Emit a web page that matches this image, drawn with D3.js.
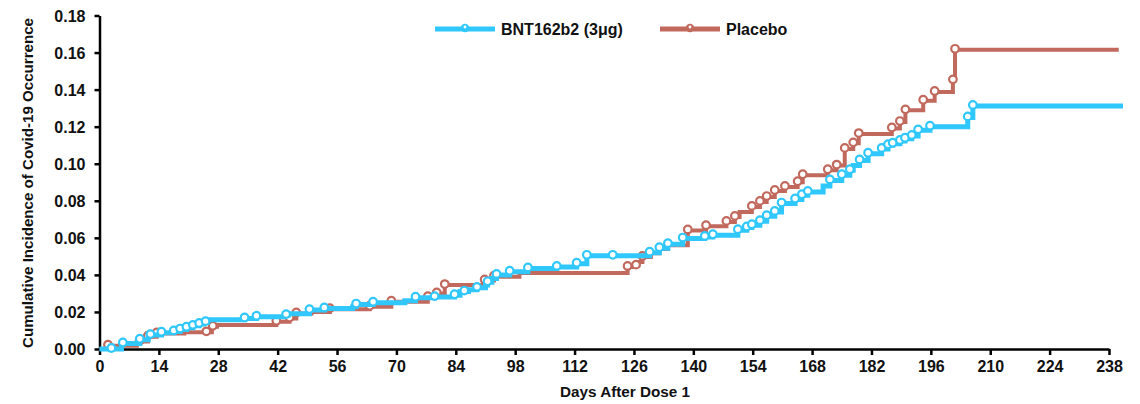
<!DOCTYPE html>
<html>
<head>
<meta charset="utf-8">
<script src="https://cdn.jsdelivr.net/npm/d3@7"></script>
<style>
  body { margin: 0; background: #fff; }
  svg { display: block; font-family: "Liberation Sans", Arial, sans-serif; }
</style>
</head>
<body>
<svg id="chart" width="1140" height="404"></svg>
<script>
// step curves: [day, cumulative incidence]
var vaccineDays = [0, 5.2, 9.5, 11.5, 14.6, 17.5, 19, 20.5, 22, 23.5, 24.5, 25.5, 34.2, 37, 43.6, 44.5, 49.5, 53, 59.7, 60.5,
  64.5, 72, 74.5, 79, 83.7, 85, 87, 89, 91, 91.5, 92.5, 93.6, 96.7, 101, 107.8, 112.5, 114.9, 129.7, 132, 134,
  137.5, 142.7, 144.6, 150.5, 152.6, 153.8, 155.7, 157.3, 159.2, 160.8, 164, 165.6, 167, 170.6, 172.2, 175, 176.9,
  177.7, 179.2, 181.2, 184.4, 185.9, 187, 188.7, 189.9, 191.5, 193, 195.8, 204.7, 205.9, 241.3]
var vaccineValues = [0, 0.003, 0.005, 0.0075, 0.0088, 0.0095, 0.0105, 0.0115, 0.0125, 0.0135, 0.0145, 0.0158, 0.0165, 0.0174,
  0.0183, 0.019, 0.021, 0.0219, 0.0228, 0.024, 0.025, 0.026, 0.0277, 0.028, 0.029, 0.031, 0.032, 0.033, 0.0345, 0.036,
  0.038, 0.040, 0.0417, 0.0435, 0.0443, 0.046, 0.0503, 0.052, 0.0544, 0.0566, 0.0596, 0.0605, 0.0614, 0.0641, 0.0656,
  0.0668, 0.069, 0.0717, 0.074, 0.0785, 0.0807, 0.083, 0.0848, 0.088, 0.091, 0.0938, 0.0965, 0.099, 0.1018, 0.1054,
  0.108, 0.110, 0.1108, 0.1123, 0.1135, 0.115, 0.118, 0.120, 0.125, 0.1312, 0.1312]
var vaccineMarks = [2.8, 5.5, 9.5, 12, 14.6, 17.5, 19, 20.5, 22, 23.5, 25, 34.2, 37, 44, 49.5, 53, 60.5, 64.5, 74.5, 79,
  83.7, 86, 89, 91.5, 93.6, 96.7, 101, 107.8, 112.5, 114.9, 121, 129.7, 132, 134, 137.5, 142.7, 144.6, 150.5, 152.6,
  153.8, 155.7, 157.3, 159.2, 160.8, 164, 165.6, 167, 172.2, 175, 176.9, 179.2, 181.2, 184.4, 185.9, 187, 188.7,
  189.9, 191.5, 193, 195.8, 204.7, 205.9]

var placeboDays = [0, 2, 8.8, 11.4, 13.5, 20, 26.5, 27.7, 41.7, 44.8, 46.4, 50, 54.3, 63.7, 68.8, 77.4, 79.5, 81.4, 90.8,
  93, 99, 124.5, 126, 127, 128, 130, 132, 134, 138.7, 143, 147.8, 149.8, 150.9, 153.8, 155.7, 157.3, 159.2, 161.6,
  164.6, 165.8, 171.7, 173.8, 175.7, 177.7, 179, 186.8, 188.7, 190, 194.2, 196.9, 201.2, 201.7, 240.3]
var placeboValues = [0, 0.0018, 0.004, 0.0066, 0.0084, 0.009, 0.012, 0.013, 0.0147, 0.0165, 0.0192, 0.020, 0.0215, 0.0228,
  0.0255, 0.028, 0.030, 0.0345, 0.037, 0.039, 0.041, 0.0443, 0.045, 0.047, 0.0497, 0.0517, 0.054, 0.056, 0.064,
  0.0663, 0.0686, 0.0713, 0.074, 0.0767, 0.0794, 0.082, 0.0853, 0.0875, 0.090, 0.0938, 0.0965, 0.099, 0.108, 0.111,
  0.116, 0.119, 0.1225, 0.1288, 0.134, 0.1387, 0.145, 0.1615, 0.1615]
var placeboMarks = [2, 9.5, 11.4, 13.5, 25.2, 26.7, 41.7, 44.8, 46.4, 54.3, 63.7, 68.8, 77.4, 79.5, 81.4, 90.8, 93,
  124.5, 126.5, 128, 138.7, 143, 147.8, 149.8, 153.8, 155.7, 157.3, 159.2, 161.6, 164.6, 165.8, 171.7, 173.8, 175.7,
  177.7, 179, 186.8, 188.7, 190, 194.2, 196.9, 201.2, 201.7]

var xTicks = d3.range(0, 239, 14)
var yTicks = d3.range(0, 0.1801, 0.02)
var seriesNames = ["BNT162b2 (3\u03bcg)", "Placebo"]

var blue = "#30c8fc"
var brown = "#c2695e"

var svg = d3.select("#chart")
var x = d3.scaleLinear().domain([0, 238]).range([99.5, 1109])
var y = d3.scaleLinear().domain([0, 0.18]).range([349, 15.5])

// axes
var xAxis = svg.append("g")
    .attr("transform", "translate(0,349)")
    .call(d3.axisBottom(x).tickValues(xTicks).tickSize(6).tickSizeOuter(0).tickPadding(6))
var yAxis = svg.append("g")
    .attr("transform", "translate(99.5,0)")
    .call(d3.axisLeft(y).tickValues(yTicks).tickFormat(d3.format(".2f")).tickSize(5).tickSizeOuter(0).tickPadding(9))

;[xAxis, yAxis].forEach(function(a) {
    a.select(".domain").attr("stroke", "#000").attr("stroke-width", 2.5)
    a.selectAll(".tick line").attr("stroke", "#000").attr("stroke-width", 2.5)
    a.selectAll(".tick text")
        .attr("fill", "#111")
        .style("font-size", "16px")
        .style("font-weight", "bold")
        .style("font-family", "'Liberation Sans', Arial, sans-serif")
})
yAxis.selectAll(".tick text").attr("dy", "0.36em")

svg.append("text")
    .attr("transform", "translate(33,183) rotate(-90)")
    .attr("text-anchor", "middle")
    .attr("textLength", 330)
    .attr("lengthAdjust", "spacingAndGlyphs")
    .style("font-size", "14px")
    .style("font-weight", "bold")
    .attr("fill", "#111")
    .text("Cumulative Incidence of Covid-19 Occurrence")

svg.append("text")
    .attr("x", 625)
    .attr("y", 397)
    .attr("text-anchor", "middle")
    .attr("textLength", 130)
    .attr("lengthAdjust", "spacingAndGlyphs")
    .style("font-size", "14px")
    .style("font-weight", "bold")
    .attr("fill", "#111")
    .text("Days After Dose 1")

// curves
var line = d3.line()
    .x(function(d) { return x(d[0]) })
    .y(function(d) { return y(d[1]) })
    .curve(d3.curveStepAfter)

function stepValue(days, values, day) {
    var i = d3.bisectRight(days, day) - 1
    return values[Math.max(0, i)]
}

function drawSeries(days, values, marks, color, width) {
    var pts = days.map(function(d, i) { return [d, values[i]] })
    svg.append("path")
        .datum(pts)
        .attr("d", line)
        .attr("fill", "none")
        .attr("stroke", color)
        .attr("stroke-width", width)
        .attr("stroke-linejoin", "miter")
    svg.append("g").selectAll("circle")
        .data(marks)
        .join("circle")
        .attr("cx", function(d) { return x(d) })
        .attr("cy", function(d) { return y(stepValue(days, values, d)) - 1 })
        .attr("r", 3.8)
        .attr("fill", "#fff")
        .attr("stroke", color)
        .attr("stroke-width", 2.2)
}

drawSeries(placeboDays, placeboValues, placeboMarks, brown, 4)
drawSeries(vaccineDays, vaccineValues, vaccineMarks, blue, 5)

// legend
var legend = svg.append("g")
var legendItems = [
    { name: seriesNames[0], color: blue, x0: 435, w: 5 },
    { name: seriesNames[1], color: brown, x0: 660, w: 5 }
]
legendItems.forEach(function(it) {
    legend.append("line")
        .attr("x1", it.x0).attr("x2", it.x0 + 60)
        .attr("y1", 29).attr("y2", 29)
        .attr("stroke", it.color).attr("stroke-width", it.w)
    legend.append("circle")
        .attr("cx", it.x0 + 30).attr("cy", 28)
        .attr("r", 4.2)
        .attr("fill", it.color)
    legend.append("circle")
        .attr("cx", it.x0 + 30).attr("cy", 27)
        .attr("r", 1.4)
        .attr("fill", "#fff")
    legend.append("text")
        .attr("x", it.x0 + 66)
        .attr("y", 35)
        .style("font-size", "16px")
        .style("font-weight", "bold")
        .attr("fill", "#111")
        .text(it.name)
})
</script>
</body>
</html>
